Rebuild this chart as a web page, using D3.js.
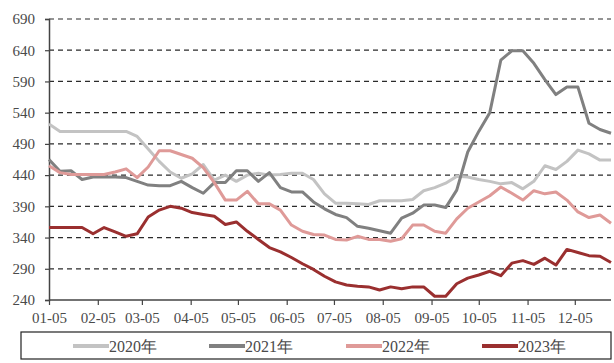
<!DOCTYPE html>
<html><head><meta charset="utf-8">
<script src="https://cdn.jsdelivr.net/npm/d3@7"></script>
<style>
html,body{margin:0;padding:0;background:#fff;}
svg{display:block;font-family:"Liberation Serif","Times New Roman",serif;}
</style></head>
<body><svg id="c" width="614" height="363"></svg>
<script>
const seriesNames = ["2020年","2021年","2022年","2023年"];
const seriesColors = ["#c3c3c3","#808080","#df9a98","#9a2f2f"];
const tickLabels = ["01-05","02-05","03-05","04-05","05-05","06-05","07-05","08-05","09-05","10-05","11-05","12-05"];
const yTicks = [240,290,340,390,440,490,540,590,640,690];
const v2020 = [522,510,510,510,510,510,510,510,502,482,462,445,435,442,457,432,440,430,440,443,440,441,443,443,433,410,395,395,394,393,399,399,399,401,415,420,427,438,437,433,430,426,428,418,430,455,449,462,480,474,464,464];
const v2021 = [465,446,447,433,437,437,437,436,430,424,423,423,430,420,411,428,428,447,447,430,444,420,413,413,397,386,377,372,358,355,351,347,371,379,392,392,388,416,477,510,540,624,639,639,619,593,569,581,581,523,513,507];
const v2022 = [455,444,441,441,441,441,445,450,436,453,479,479,473,467,452,428,400,400,414,394,394,384,360,350,345,344,337,336,342,337,337,334,338,360,360,350,347,370,387,397,407,421,411,400,415,410,413,400,381,372,376,363];
const v2023 = [356,356,356,356,346,356,349,342,346,373,384,390,387,380,377,374,361,365,350,337,324,317,308,298,289,278,269,264,262,261,256,261,258,261,261,246,246,266,275,280,286,279,299,303,297,307,296,321,316,311,310,300];
const allSeries = [v2020,v2021,v2022,v2023];

const start = new Date(2023,0,5);
const dates = v2020.map((_,i)=>d3.timeDay.offset(start,7*i));
const tickDates = tickLabels.map((_,m)=>new Date(2023,m,5));

const svg = d3.select("#c");
const x = d3.scaleTime().domain([start, dates[dates.length-1]]).range([49,611]);
const y = d3.scaleLinear().domain([240,690]).range([300,19]);

// gridlines
svg.append("g").selectAll("line").data(yTicks.filter(d=>d>240)).join("line")
  .attr("x1",49).attr("x2",611).attr("y1",d=>y(d)).attr("y2",d=>y(d))
  .attr("stroke","#2b2b2b").attr("stroke-width",1.2).attr("stroke-dasharray","5,4");

// y axis
const ya = svg.append("g").attr("transform","translate(49,0)")
  .call(d3.axisLeft(y).tickValues(yTicks).tickSize(4).tickPadding(10));
ya.select(".domain").attr("stroke","#444").attr("stroke-width",1.5);
ya.selectAll(".tick line").attr("stroke","#444").attr("stroke-width",1.2);
ya.selectAll("text").attr("font-size",15).attr("fill","#4a4a4a")
  .attr("font-family","'Liberation Serif','Times New Roman',serif");

// x axis
const xa = svg.append("g").attr("transform","translate(0,300)")
  .call(d3.axisBottom(x).tickValues(tickDates).tickFormat((d,i)=>tickLabels[i]).tickSize(5).tickPadding(7).tickSizeOuter(0));
xa.select(".domain").attr("stroke","#444").attr("stroke-width",1.5).attr("d","M49,0H611");
xa.selectAll(".tick line").attr("stroke","#444").attr("stroke-width",1.2);
xa.selectAll("text").attr("font-size",15).attr("fill","#4a4a4a")
  .attr("font-family","'Liberation Serif','Times New Roman',serif");

// lines
const line = d3.line().x((d,i)=>x(dates[i])).y(d=>y(d));
svg.append("g").selectAll("path").data(allSeries).join("path")
  .attr("d",line).attr("fill","none")
  .attr("stroke",(d,i)=>seriesColors[i]).attr("stroke-width",3)
  .attr("stroke-linejoin","round");

// legend
svg.append("rect").attr("x",21).attr("y",332).attr("width",590).attr("height",27)
  .attr("fill","#fff").attr("stroke","#222").attr("stroke-width",1.2);
const legX = [73,209,346,482];
const lg = svg.append("g").selectAll("g").data(seriesNames).join("g")
  .attr("transform",(d,i)=>`translate(${legX[i]},346)`);
lg.append("line").attr("x1",0).attr("x2",36).attr("y1",0).attr("y2",0)
  .attr("stroke",(d,i)=>seriesColors[i]).attr("stroke-width",4);
lg.append("text").attr("x",36).attr("y",5.5).attr("font-size",16).attr("fill","#4a4a4a")
  .text(d=>d);
</script></body></html>
